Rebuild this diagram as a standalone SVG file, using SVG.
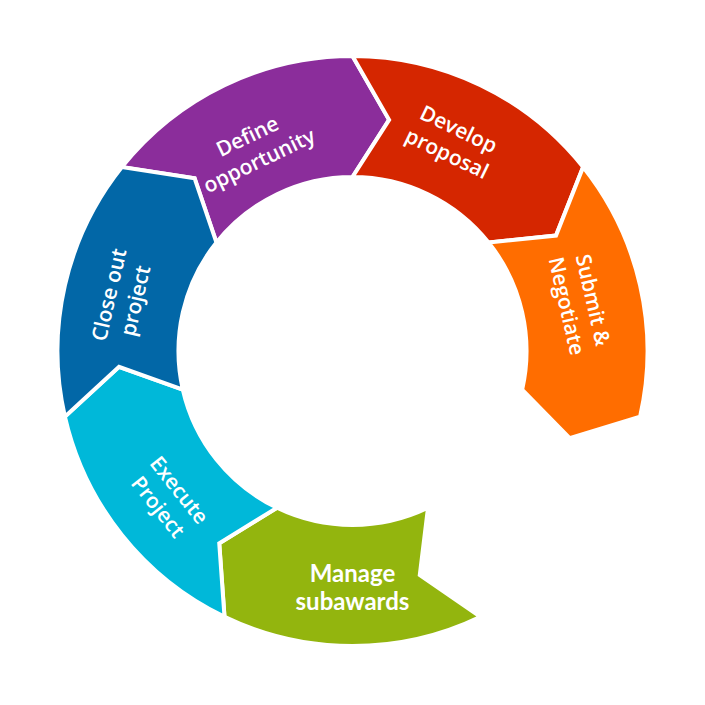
<svg xmlns="http://www.w3.org/2000/svg" width="705" height="705" viewBox="0 0 705 705">
<style>
.seg{stroke:#ffffff;stroke-width:4;stroke-linejoin:miter}
.lbl{font-family:"Open Sans","Noto Sans","DejaVu Sans",sans-serif;font-weight:600;font-size:21px;fill:#ffffff;text-anchor:middle}
.lbl2{font-family:Lato,"Open Sans","Liberation Sans",sans-serif;font-weight:700;font-size:24px;fill:#ffffff;text-anchor:middle}
</style>
<rect width="705" height="705" fill="#ffffff"/>
<g id="define">
<path class="seg" fill="#8B2D9B" d="M121.86,167.07 A295,295 0 0 1 352.5,56 L389.10,119.88 L352.5,177 A174,174 0 0 0 216.46,242.51 L194.62,178.28 Z"/>
<g transform="translate(254,150) rotate(-25.7)"><text class="lbl" y="-8">Define</text><text class="lbl" y="19">opportunity</text></g>
</g>
<g id="develop">
<path class="seg" fill="#D52600" d="M352.5,56 A295,295 0 0 1 583.14,167.07 L556.02,235.53 L488.54,242.51 A174,174 0 0 0 352.5,177 L389.10,119.88 Z"/>
<g transform="translate(452,143) rotate(25.7)"><text class="lbl" y="-8">Develop</text><text class="lbl" y="19">proposal</text></g>
</g>
<g id="submit">
<path class="seg" fill="#FF6D00" d="M583.14,167.07 A295,295 0 0 1 640.10,416.64 L569.68,438.13 L522.14,389.72 A174,174 0 0 0 488.54,242.51 L556.02,235.53 Z"/>
<g transform="translate(580,303) rotate(77.1)"><text class="lbl" y="-6">Submit &amp;</text><text class="lbl" y="21">Negotiate</text></g>
</g>
<g id="manage">
<path class="seg" fill="#93B50E" d="M480.50,616.79 A295,295 0 0 1 224.50,616.79 L219.25,543.36 L277.0,507.77 A174,174 0 0 0 428.0,507.77 L419.78,575.12 Z"/>
<text class="lbl2" x="352.5" y="582">Manage</text><text class="lbl2" x="352.5" y="610">subawards</text>
</g>
<g id="execute">
<path class="seg" fill="#00B8D9" d="M224.50,616.79 A295,295 0 0 1 64.90,416.64 L119.03,366.75 L182.86,389.72 A174,174 0 0 0 277.0,507.77 L219.25,543.36 Z"/>
<g transform="translate(168,499) rotate(51.4)"><text class="lbl" y="-7">Execute</text><text class="lbl" y="20">Project</text></g>
</g>
<g id="closeout">
<path class="seg" fill="#0267A7" d="M64.90,416.64 A295,295 0 0 1 121.86,167.07 L194.62,178.28 L216.46,242.51 A174,174 0 0 0 182.86,389.72 L119.03,366.75 Z"/>
<g transform="translate(124,298) rotate(-77.1)"><text class="lbl" y="-8">Close out</text><text class="lbl" y="19">project</text></g>
</g>
</svg>
